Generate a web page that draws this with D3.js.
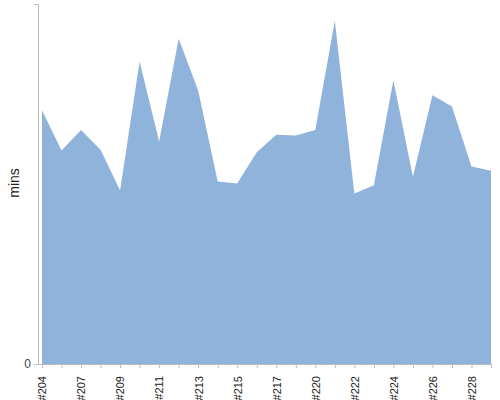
<!DOCTYPE html>
<html>
<head>
<meta charset="utf-8">
<script src="https://cdn.jsdelivr.net/npm/d3@7"></script>
<style>
  body { margin: 0; background: #fff; }
  svg { font-family: "Liberation Sans", Arial, sans-serif; }
</style>
</head>
<body>
<svg id="chart" width="500" height="400"></svg>
<script>
// episode labels along the x axis
var episodes = ["#204", "#205", "#207", "#208", "#209", "#210", "#211", "#212",
                "#213", "#214", "#215", "#216", "#217", "#218", "#220", "#221",
                "#222", "#223", "#224", "#225", "#226", "#227", "#228", "#229"]
// minutes per episode
var mins = [42.3, 35.6, 39.0, 35.7, 28.9, 50.4, 37.1, 54.2,
            45.6, 30.4, 30.1, 35.3, 38.2, 38.1, 39.0, 57.2,
            28.4, 29.8, 47.3, 31.2, 44.8, 42.9, 32.9, 32.2]
var yTicks = [0]

var dimensions = {
    width: 500,
    height: 400,
    margin: { top: 4, bottom: 36, right: 9, left: 42 }
}

var svg = d3.select("#chart")

var data = episodes.map((e, i) => ({ ep: e, v: mins[i] }))

var xScale = d3.scalePoint()
        .domain(episodes)
        .range([dimensions.margin.left, dimensions.width - dimensions.margin.right])

var yScale = d3.scaleLinear()
        .domain([0, 60])
        .range([dimensions.height - dimensions.margin.bottom, dimensions.margin.top])

var area = d3.area()
        .x(d => xScale(d.ep))
        .y0(yScale(0))
        .y1(d => yScale(d.v))

svg.append("path")
        .datum(data)
        .attr("d", area)
        .attr("fill", "#90b3db")

// x axis
var xAxisGen = d3.axisBottom(xScale)
        .tickSizeOuter(0)
        .tickSize(4)
        .tickFormat((d, i) => i % 2 == 0 ? d : "")

var xAxis = svg.append("g")
        .attr("transform", `translate(0, ${dimensions.height - dimensions.margin.bottom})`)
        .call(xAxisGen)

xAxis.select(".domain")
        .attr("stroke", "#bbb")
        .attr("d", `M${dimensions.margin.left - 4},0.5H${dimensions.width - dimensions.margin.right + 1}`)
xAxis.selectAll(".tick line").attr("stroke", "#bbb")
xAxis.selectAll(".tick text")
        .attr("transform", "rotate(-90)")
        .attr("x", -12)
        .attr("y", 0)
        .attr("dy", "0.35em")
        .style("text-anchor", "end")
        .style("font-size", "11px")
        .attr("fill", "#222")

// y axis
var yAxisGen = d3.axisLeft(yScale)
        .tickValues(yTicks)
        .tickSizeOuter(0)
        .tickSize(4)

var yAxis = svg.append("g")
        .attr("transform", `translate(${dimensions.margin.left - 4}, 0)`)
        .call(yAxisGen)

yAxis.select(".domain").attr("stroke", "#bbb")
yAxis.selectAll(".tick line").attr("stroke", "#bbb")
yAxis.selectAll(".tick text")
        .style("font-size", "12px")
        .attr("fill", "#444")

var yTitle = svg.append("text")
        .attr("transform", "rotate(-90)")
        .attr("x", -183)
        .attr("y", 19)
        .style("text-anchor", "middle")
        .style("font-size", "14px")
        .attr("fill", "#222")
        .text("mins")
</script>
</body>
</html>
